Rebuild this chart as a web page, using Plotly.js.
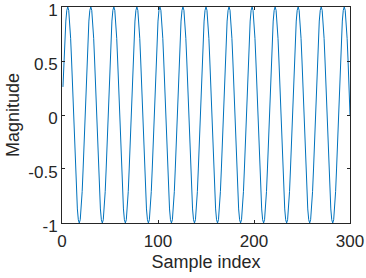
<!DOCTYPE html>
<html>
<head>
<meta charset="utf-8">
<script src="https://cdn.plot.ly/plotly-3.0.1.min.js"></script>
<style>
  html, body { margin: 0; padding: 0; background: #fff; }
  #plot { width: 366px; height: 278px; }
</style>
</head>
<body>
<div id="plot"></div>
<script>
// magnitude, one row per period (24 samples), sample index starts at 1
var magnitude = [
  .26,.5,.71,.87,.97,1,.97,.87,.71,.5,.26,0,-.26,-.5,-.71,-.87,-.97,-1,-.97,-.87,-.71,-.5,-.26,0,
  .26,.5,.71,.87,.97,1,.97,.87,.71,.5,.26,0,-.26,-.5,-.71,-.87,-.97,-1,-.97,-.87,-.71,-.5,-.26,0,
  .26,.5,.71,.87,.97,1,.97,.87,.71,.5,.26,0,-.26,-.5,-.71,-.87,-.97,-1,-.97,-.87,-.71,-.5,-.26,0,
  .26,.5,.71,.87,.97,1,.97,.87,.71,.5,.26,0,-.26,-.5,-.71,-.87,-.97,-1,-.97,-.87,-.71,-.5,-.26,0,
  .26,.5,.71,.87,.97,1,.97,.87,.71,.5,.26,0,-.26,-.5,-.71,-.87,-.97,-1,-.97,-.87,-.71,-.5,-.26,0,
  .26,.5,.71,.87,.97,1,.97,.87,.71,.5,.26,0,-.26,-.5,-.71,-.87,-.97,-1,-.97,-.87,-.71,-.5,-.26,0,
  .26,.5,.71,.87,.97,1,.97,.87,.71,.5,.26,0,-.26,-.5,-.71,-.87,-.97,-1,-.97,-.87,-.71,-.5,-.26,0,
  .26,.5,.71,.87,.97,1,.97,.87,.71,.5,.26,0,-.26,-.5,-.71,-.87,-.97,-1,-.97,-.87,-.71,-.5,-.26,0,
  .26,.5,.71,.87,.97,1,.97,.87,.71,.5,.26,0,-.26,-.5,-.71,-.87,-.97,-1,-.97,-.87,-.71,-.5,-.26,0,
  .26,.5,.71,.87,.97,1,.97,.87,.71,.5,.26,0,-.26,-.5,-.71,-.87,-.97,-1,-.97,-.87,-.71,-.5,-.26,0,
  .26,.5,.71,.87,.97,1,.97,.87,.71,.5,.26,0,-.26,-.5,-.71,-.87,-.97,-1,-.97,-.87,-.71,-.5,-.26,0,
  .26,.5,.71,.87,.97,1,.97,.87,.71,.5,.26,0,-.26,-.5,-.71,-.87,-.97,-1,-.97,-.87,-.71,-.5,-.26,0,
  .26,.5,.71,.87,.97,1,.97,.87,.71,.5,.26,0
];

var xTicks = [0, 100, 200, 300];
var yTicks = [-1, -0.5, 0, 0.5, 1];
var yTickText = ["-1", "-0.5", "0", "0.5", "1"];

var fontFam = "Liberation Sans, Arial, sans-serif";

var trace1 = {
  type: "scatter",
  mode: "lines",
  x0: 1,
  dx: 1,
  y: magnitude,
  line: { color: "#0072BD", width: 1 },
  hoverinfo: "skip"
};

var axisStyle = {
  showline: true,
  linecolor: "#262626",
  linewidth: 1,
  mirror: "ticks",
  ticks: "inside",
  ticklen: 3,
  tickcolor: "#262626",
  showgrid: false,
  zeroline: false,
  ticklabeloverflow: "allow",
  tickfont: { family: fontFam, size: 17, color: "#262626" }
};

var layout = {
  width: 366,
  height: 278,
  margin: { l: 62, r: 16, t: 7, b: 55 },
  paper_bgcolor: "#fff",
  plot_bgcolor: "#fff",
  showlegend: false,
  xaxis: Object.assign({}, axisStyle, {
    range: [0, 300],
    tickvals: xTicks,
    ticklabelstandoff: 3,
    title: { text: "Sample index", standoff: 4, font: { family: fontFam, size: 18, color: "#262626" } }
  }),
  yaxis: Object.assign({}, axisStyle, {
    range: [-1.0001, 1.0001],
    tickvals: yTicks,
    ticktext: yTickText,
    ticklabelshift: 3,
    title: { text: "Magnitude", standoff: 4, font: { family: fontFam, size: 18, color: "#262626" } }
  })
};

Plotly.newPlot("plot", [trace1], layout, { displayModeBar: false, staticPlot: true });
</script>
</body>
</html>
